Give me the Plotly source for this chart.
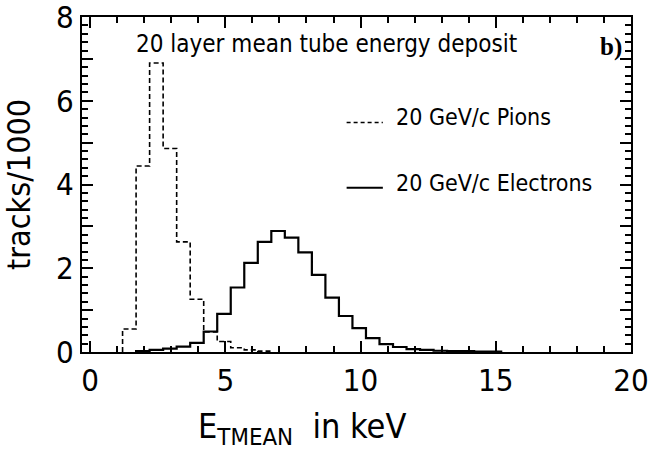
import plotly.graph_objects as go

# bin left edges (keV), width 0.5
pion_edges = [1.2, 1.7, 2.2, 2.7, 3.2, 3.7, 4.2, 4.7, 5.2, 5.7, 6.2]
pion_vals = [0.55, 4.44, 6.90, 4.86, 2.63, 1.26, 0.48, 0.25, 0.10, 0.05, 0.02]

elec_edges = [1.7, 2.2, 2.7, 3.2, 3.7, 4.2, 4.7, 5.2, 5.7, 6.2, 6.7, 7.2, 7.7, 8.2,
              8.7, 9.2, 9.7, 10.2, 10.7, 11.2, 11.7, 12.2, 12.7, 13.2, 13.7, 14.2, 14.7]
elec_vals = [0.02, 0.05, 0.08, 0.13, 0.22, 0.49, 0.91, 1.54, 2.13, 2.63, 2.89, 2.73, 2.38, 1.84,
             1.30, 0.86, 0.57, 0.33, 0.19, 0.12, 0.07, 0.05, 0.03, 0.02, 0.02, 0.01, 0.01]
bin_width = 0.5

x_tickvals = [0, 5, 10, 15, 20]
y_tickvals = [0, 1, 2, 3, 4, 5, 6, 7, 8]
y_ticktext = ["0", " ", "2", " ", "4", " ", "6", " ", "8"]

legend_labels = ["20 GeV/c Pions", "20 GeV/c Electrons"]
title_text = "20 layer mean tube energy deposit"

FONT = "Liberation Sans Narrow, DejaVu Sans Condensed, Liberation Sans, Arial, sans-serif"


def step(edges, vals, w):
    xs = [edges[0]] + list(edges) + [edges[-1] + w]
    ys = [0] + list(vals) + [0]
    return xs, ys


fig = go.Figure()
px_, py_ = step(pion_edges, pion_vals, bin_width)
fig.add_trace(go.Scatter(x=px_, y=py_, mode="lines", line_shape="hv",
                         line=dict(color="black", width=1.6, dash="5px,3px"),
                         showlegend=False, hoverinfo="skip"))
ex_, ey_ = step(elec_edges, elec_vals, bin_width)
fig.add_trace(go.Scatter(x=ex_, y=ey_, mode="lines", line_shape="hv",
                         line=dict(color="black", width=2.2),
                         showlegend=False, hoverinfo="skip"))

axis_common = dict(showgrid=False, zeroline=False, showline=True, linecolor="black",
                   linewidth=2, mirror="allticks", ticks="inside", tickcolor="black",
                   tickwidth=1.5, ticklen=11, ticklabeloverflow="allow", automargin=False,
                   tickfont=dict(family=FONT, size=31, color="black"))

fig.update_xaxes(range=[-0.3, 20], tickvals=x_tickvals, **axis_common,
                 minor=dict(dtick=1, ticks="inside", ticklen=6, tickcolor="black", tickwidth=1.5))
fig.update_yaxes(range=[0, 8], tickvals=y_tickvals, ticktext=y_ticktext, **axis_common,
                 minor=dict(dtick=0.2, ticks="inside", ticklen=6, tickcolor="black", tickwidth=1.5),
                 title=dict(text="tracks/1000", font=dict(family=FONT, size=32, color="black"),
                            standoff=20))

# x axis title
fig.add_annotation(x=0.40, y=-0.228, xref="paper", yref="paper",
                   text="E<sub>TMEAN</sub>  in keV", showarrow=False,
                   xanchor="center", yanchor="middle",
                   font=dict(family=FONT, size=34, color="black"))

# title text inside plot
fig.add_annotation(x=0.095, y=0.918, xref="paper", yref="paper", text=title_text,
                   showarrow=False, xanchor="left", yanchor="middle",
                   font=dict(family=FONT, size=24, color="black"))
fig.add_annotation(x=0.94, y=0.91, xref="paper", yref="paper", text="<b>b)</b>",
                   showarrow=False, xanchor="left", yanchor="middle",
                   font=dict(family="Liberation Serif, Times New Roman, serif", size=25, color="black"))

# legend samples
leg_y = [0.685, 0.49]
leg_dash = ["4px,3px", "solid"]
for yy, lab, d in zip(leg_y, legend_labels, leg_dash):
    fig.add_shape(type="line", xref="paper", yref="paper", x0=0.482, x1=0.548, y0=yy, y1=yy,
                  line=dict(color="black", width=1.6 if d != "solid" else 2, dash=d))
    fig.add_annotation(x=0.568, y=yy + 0.015, xref="paper", yref="paper", text=lab,
                       showarrow=False, xanchor="left", yanchor="middle",
                       font=dict(family=FONT, size=23, color="black"))

fig.update_layout(width=648, height=457, margin=dict(l=82, r=17, t=17, b=105),
                  paper_bgcolor="white", plot_bgcolor="white",
                  font=dict(family=FONT, color="black"))

fig.write_html("out.html")
